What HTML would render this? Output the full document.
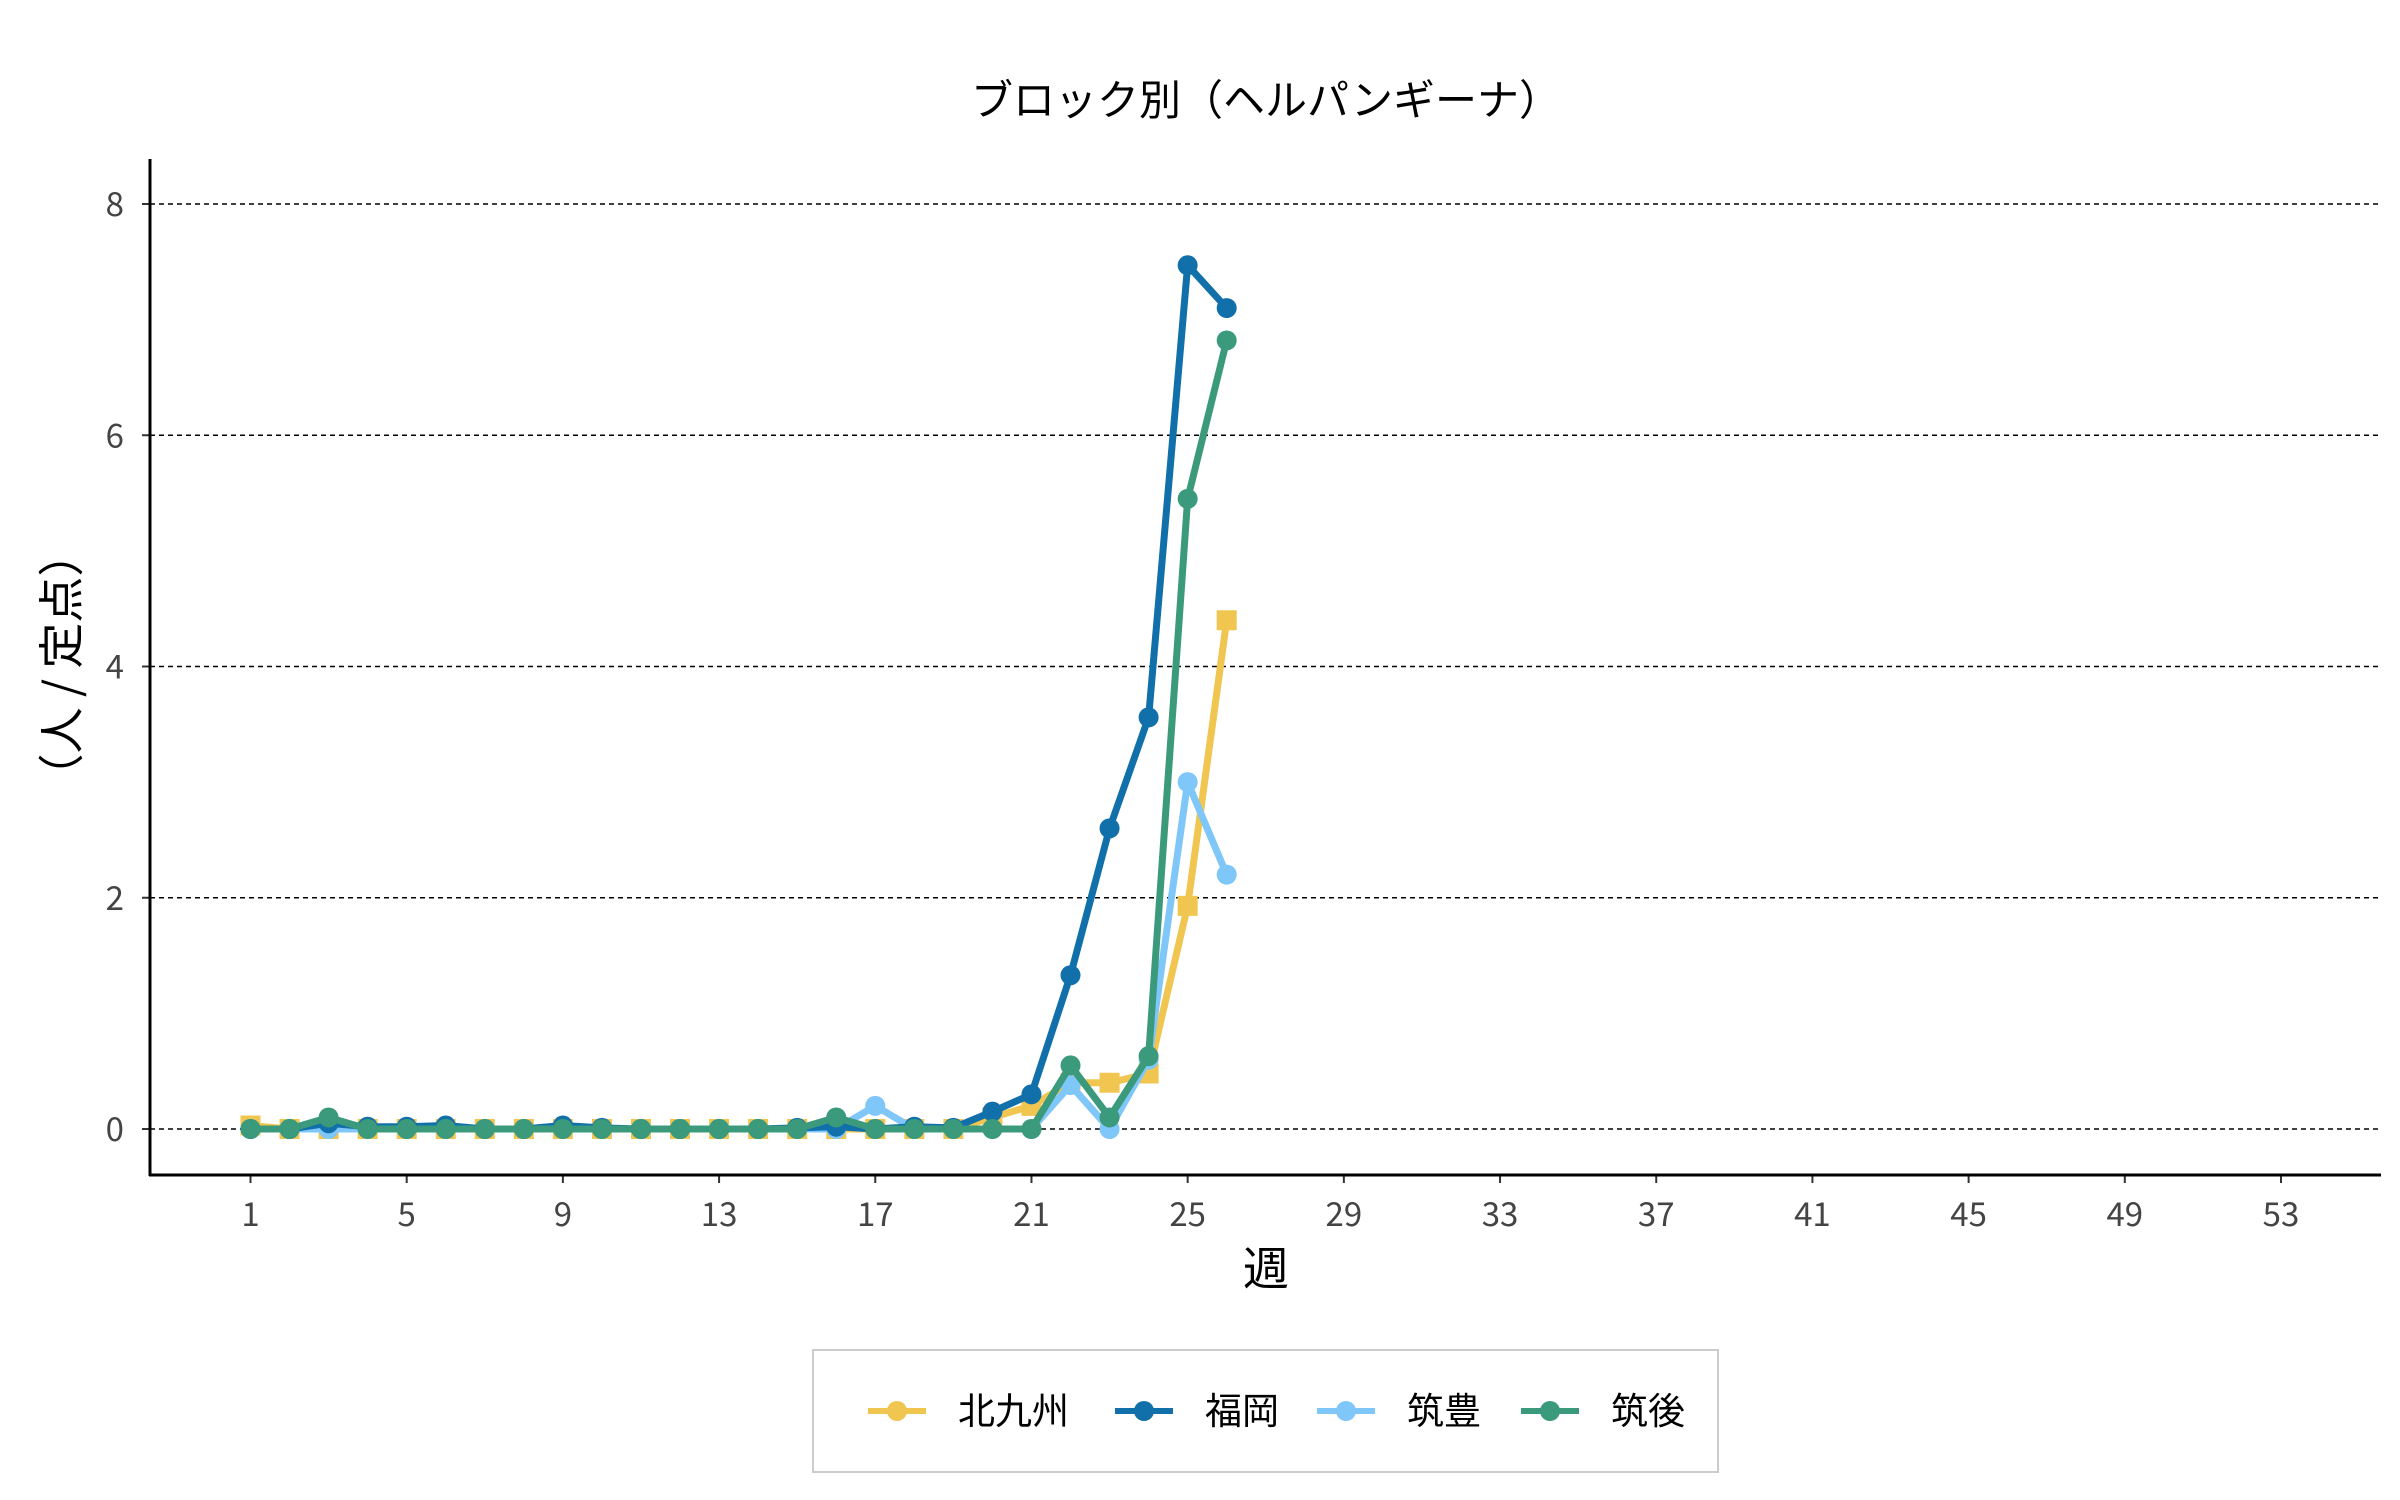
<!DOCTYPE html>
<html><head><meta charset="utf-8"><style>
body{margin:0;background:#fff;}
svg{display:block;font-family:"Noto Sans CJK JP","Liberation Sans",sans-serif;}
</style></head><body>
<svg id="chart" width="2400" height="1500" viewBox="0 0 2400 1500">
<text x="1266" y="115" font-size="42" text-anchor="middle" fill="#000">ブロック別（ヘルパンギーナ）</text>
<g id="grid"></g>
<g id="axes"></g>
<g id="series"></g>
<text x="1266" y="1285" font-size="46" text-anchor="middle" fill="#000">週</text>
<text transform="translate(78,665) rotate(-90)" font-size="46" text-anchor="middle" fill="#000">（人 / 定点）</text>
<g>
<rect x="813" y="1350" width="905" height="122" fill="#fff" stroke="#ccc" stroke-width="2"/>
<g id="legend"></g>
</g>
</svg>
<script>
const weeks=[1,2,3,4,5,6,7,8,9,10,11,12,13,14,15,16,17,18,19,20,21,22,23,24,25,26];
const kitakyushu=[0.03,0,0,0,0,0,0,0,0,0,0,0,0,0,0,0,0,0,0,0.1,0.2,0.4,0.4,0.48,1.93,4.4];
const fukuoka=[0,0,0.05,0.02,0.02,0.03,0,0,0.03,0.01,0,0,0,0,0.01,0.02,0,0.02,0.01,0.15,0.3,1.33,2.6,3.56,7.47,7.1];
const chikuho=[0,0,0,0,0,0,0,0,0,0,0,0,0,0,0,0,0.2,0,0,0,0,0.38,0,0.6,3.0,2.2];
const chikugo=[0,0,0.1,0,0,0,0,0,0,0,0,0,0,0,0,0.1,0,0,0,0,0,0.55,0.1,0.63,5.45,6.82];
const seriesNames=["北九州","福岡","筑豊","筑後"];
const yTicks=[0,2,4,6,8];
const xTicks=[1,5,9,13,17,21,25,29,33,37,41,45,49,53];
const NS="http://www.w3.org/2000/svg";
const X=w=>250.5+(w-1)*(2281-250.5)/52;
const Y=v=>1129-v*(1129-204)/8;
function mk(t,a,p){const e=document.createElementNS(NS,t);for(const k in a)e.setAttribute(k,a[k]);p.appendChild(e);return e;}
const grid=document.getElementById('grid'),axes=document.getElementById('axes'),ser=document.getElementById('series');
yTicks.forEach(v=>{
 const l=mk('line',{x1:150,x2:2381,y1:Y(v),y2:Y(v),stroke:'#000','stroke-width':1.6,'stroke-dasharray':'5,4'},grid);
 
 
 const t=mk('text',{x:124,y:Y(v)+12,'font-size':33,'text-anchor':'end',fill:'#444'},axes);t.textContent=v;
 
 
 mk('line',{x1:142,x2:150,y1:Y(v),y2:Y(v),stroke:'#333','stroke-width':2},axes);
});
xTicks.forEach(w=>{
 const t=mk('text',{x:X(w),y:1226,'font-size':33,'text-anchor':'middle',fill:'#444'},axes);t.textContent=w;
 
 
 mk('line',{x1:X(w),x2:X(w),y1:1175,y2:1183,stroke:'#333','stroke-width':2},axes);
});
const ys=mk('line',{x1:150,x2:150,y1:159,y2:1176,stroke:'#000','stroke-width':3},axes);


const xs=mk('line',{x1:149,x2:2381,y1:1175,y2:1175,stroke:'#000','stroke-width':3},axes);


const data=[kitakyushu,fukuoka,chikuho,chikugo];
const colors=["#f0c550","#1170aa","#7fc6f9","#3b9a7b"];
const order=[0,2,1,3];
order.forEach(i=>{
 const d=data[i];
 const g=mk('g',{},ser);
 
 
 const pl=mk('polyline',{points:d.map((v,j)=>X(weeks[j])+','+Y(v)).join(' '),fill:'none',stroke:colors[i],'stroke-width':7,'stroke-linejoin':'round'},g);
 
 
 d.forEach((v,j)=>{
  let m;
  if(i===0) m=mk('rect',{x:X(weeks[j])-10,y:Y(v)-10,width:20,height:20,fill:colors[i]},g);
  else m=mk('circle',{cx:X(weeks[j]),cy:Y(v),r:10,fill:colors[i]},g);
  
  
 });
});
const lg=document.getElementById('legend');
const lx=[868,1115,1317,1521];
seriesNames.forEach((n,i)=>{
 const g=mk('g',{},lg);
 
 
 mk('line',{x1:lx[i],x2:lx[i]+58,y1:1411,y2:1411,stroke:colors[i],'stroke-width':6},g);
 mk('circle',{cx:lx[i]+29,cy:1411,r:10,fill:colors[i]},g);
 const t=mk('text',{x:lx[i]+90,y:1424,'font-size':37,fill:'#000'},g);t.textContent=n;
});
</script>
</body></html>
